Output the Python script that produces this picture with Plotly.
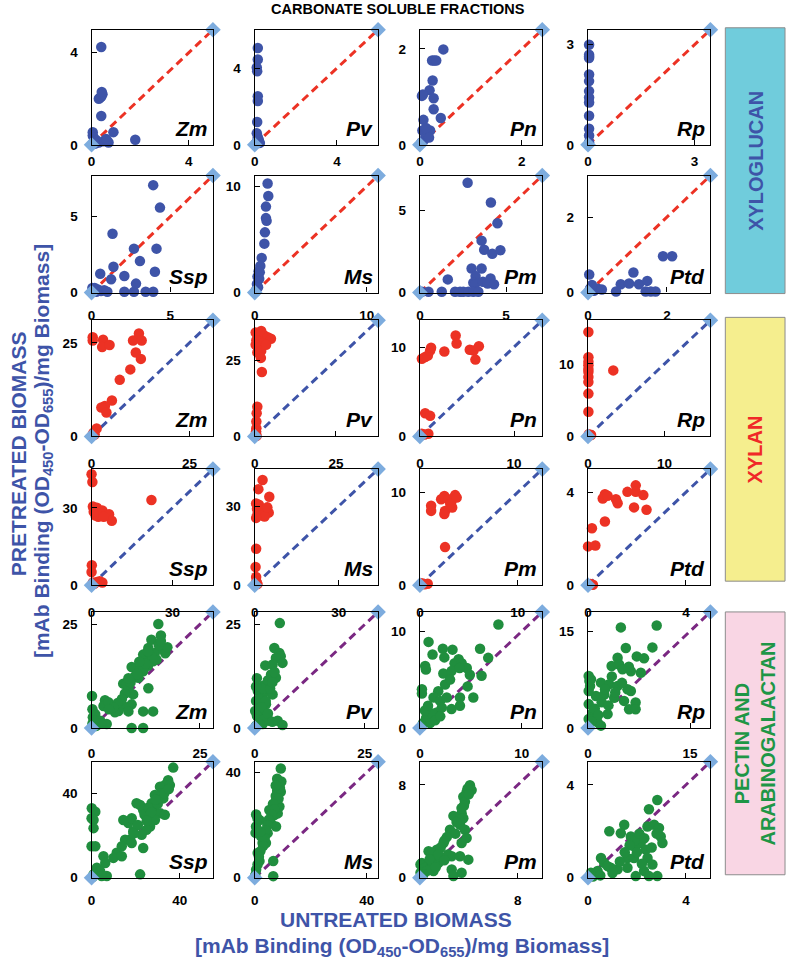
import plotly.graph_objects as go

# ---------------- DATA ----------------
panel_names = ["Zm", "Pv", "Pn", "Rp", "Ssp", "Ms", "Pm", "Ptd"]
group_names = ["XYLOGLUCAN", "XYLAN", "PECTIN AND<br>ARABINOGALACTAN"]

# axis maximum (both axes) and the labelled tick per panel, row-major
axis_max = [5, 6, 2.4, 3.45, 7.7, 11, 7.1, 3.1,
            31, 38, 13, 16, 45, 44, 12.5, 5,
            28, 28, 12, 18, 55, 44, 10, 5]
tick_val = [4, 4, 2, 3, 5, 10, 5, 2,
            25, 25, 10, 10, 30, 30, 10, 4,
            25, 25, 10, 15, 40, 40, 8, 4]

# ---- xyloglucan ----
xg_zm = [(0.4, 4.25), (0.3, 2.0), (0.35, 2.05), (0.4, 2.1), (0.45, 2.2), (0.42, 2.3), (0.4, 1.25),
         (0.9, 0.55), (1.8, 0.22), (0.05, 0.55), (0.05, 0.4), (0.1, 0.3), (0.2, 0.2), (0.3, 0.1),
         (0.5, 0.15), (0.6, 0.25), (0.7, 0.1), (0.15, 0.05), (0.02, 0.02), (0.63, 0.2), (0.1, 0.12)]
xg_pv = [(0.15, 5.05), (0.15, 4.45), (0.1, 4.03), (0.12, 3.83), (0.15, 2.53), (0.15, 2.28),
         (0.12, 1.19), (0.1, 0.6), (0.15, 0.4), (0.2, 0.25), (0.1, 0.15), (0.25, 0.1), (0.05, 0.05)]
xg_pn = [(0.46, 1.99), (0.24, 1.76), (0.28, 1.76), (0.32, 1.76), (0.25, 1.34), (0.19, 1.14),
         (0.04, 1.02), (0.06, 1.05), (0.27, 0.97), (0.27, 0.74), (0.07, 0.52), (0.41, 0.56),
         (0.05, 0.3), (0.1, 0.25), (0.15, 0.2), (0.2, 0.3), (0.08, 0.1), (0.03, 0.05), (0.12, 0.35),
         (0.18, 0.15)]
xg_rp = [(0.03, 3.0), (0.03, 2.7), (0.03, 2.65), (0.03, 2.6), (0.03, 2.11), (0.03, 1.91), (0.03, 1.61),
         (0.03, 1.42), (0.03, 1.27), (0.03, 0.87), (0.03, 0.48), (0.03, 0.28), (0.03, 0.08)]
xg_ssp = [(3.91, 7.07), (4.34, 5.59), (1.33, 3.87), (2.69, 2.89), (4.12, 2.89), (3.07, 2.07),
          (1.39, 1.7), (2.08, 1.09), (0.55, 1.24), (1.24, 0.87), (4.02, 1.37), (2.08, 0.05),
          (2.69, 0.05), (3.43, 0.05), (3.91, 0.05), (2.82, 0.59), (0.1, 0.1), (0.2, 0.3), (0.4, 0.2),
          (0.6, 0.1), (0.8, 0.15), (1.0, 0.05), (0.3, 0.05), (0.05, 0.3)]
xg_ms = [(1.15, 10.25), (1.21, 9.07), (1.0, 8.08), (1.0, 7.0), (1.06, 6.74), (0.91, 5.66),
         (0.86, 4.6), (0.62, 3.26), (0.5, 2.5), (0.45, 1.9), (0.4, 1.3), (0.2, 0.8), (0.3, 0.5),
         (0.1, 0.2), (0.05, 0.05), (0.25, 1.5), (0.35, 2.0)]
xg_pm = [(2.77, 6.66), (4.12, 5.46), (4.5, 4.21), (3.58, 3.15), (3.73, 2.6), (4.2, 2.35), (4.67, 2.57),
         (3.0, 1.46), (3.58, 1.46), (3.23, 1.0), (3.1, 0.6), (3.2, 0.5), (1.62, 0.8), (3.66, 0.66),
         (4.1, 0.85), (3.93, 0.55), (4.3, 0.5), (0.12, 0.05), (0.5, 0.05), (1.27, 0.05), (2.04, 0.05),
         (2.33, 0.05), (2.52, 0.05), (2.81, 0.05), (3.1, 0.05), (3.39, 0.05)]
xg_ptd = [(1.9, 0.96), (2.13, 0.96), (0.03, 0.48), (1.15, 0.53), (0.83, 0.22), (1.04, 0.24),
          (1.29, 0.22), (1.5, 0.31), (0.71, 0.03), (1.46, 0.03), (1.59, 0.03), (1.71, 0.03),
          (0.05, 0.1), (0.15, 0.05), (0.25, 0.1), (0.35, 0.08), (0.1, 0.2), (0.02, 0.02)]

# ---- xylan ----
xy_zm = [(0.3, 26.5), (0.3, 25.6), (2.95, 25.8), (2.7, 23.9), (4.6, 24.4), (10.6, 25.6), (12.1, 27.5),
         (12.8, 25.6), (11.3, 22.4), (12.6, 20.7), (9.9, 17.9), (7.2, 15.1), (5.2, 9.6), (3.4, 8.1),
         (2.5, 7.7), (3.8, 6.4), (1.3, 2.1), (0.5, 1.0), (0.2, 0.3), (0.8, 0.5), (0.1, 0.1)]
xy_pv = [(0.3, 34.0), (1.0, 33.5), (2.0, 34.5), (3.0, 33.0), (4.0, 32.5), (5.0, 32.0), (0.5, 31.5),
         (1.5, 31.0), (2.5, 30.5), (0.3, 30.0), (1.0, 29.0), (2.0, 28.0), (3.5, 30.0), (0.8, 27.5),
         (1.9, 25.7), (2.2, 21.1), (0.8, 9.7), (0.6, 7.6), (0.5, 4.9), (0.5, 2.7), (0.4, 1.6),
         (0.2, 0.5), (0.6, 0.2), (0.1, 0.1)]
xy_pn = [(0.21, 8.7), (0.56, 8.9), (0.85, 9.07), (1.09, 9.63), (1.19, 9.92), (2.6, 9.5), (3.8, 11.3),
         (3.9, 10.4), (5.3, 9.7), (5.7, 9.63), (6.27, 10.1), (5.9, 8.6), (0.56, 2.6), (1.09, 2.3),
         (0.2, 0.3), (0.5, 0.2), (0.9, 0.3), (0.1, 0.1)]
xy_rp = [(0.05, 14.4), (0.05, 10.9), (0.05, 10.3), (0.05, 9.8), (0.05, 9.3), (0.05, 8.9), (0.05, 8.2),
         (0.05, 7.5), (0.05, 5.9), (0.05, 3.4), (3.3, 9.1), (0.1, 0.3), (0.4, 0.2), (0.05, 0.05)]
xy_ssp = [(0.0, 43.0), (0.3, 40.0), (22.2, 33.0), (0.5, 30.5), (1.0, 29.5), (2.0, 30.0), (3.0, 28.5),
          (4.0, 29.0), (5.0, 27.5), (1.5, 27.0), (2.5, 26.5), (3.5, 27.5), (6.5, 27.5), (7.5, 25.0),
          (0.8, 28.5), (4.5, 26.5), (0.1, 7.7), (0.0, 5.1), (0.5, 1.0), (1.0, 0.5), (2.0, 1.2),
          (3.0, 1.5), (4.0, 1.0), (0.2, 0.2)]
xy_ms = [(2.8, 39.9), (1.3, 36.4), (5.2, 33.5), (0.5, 31.0), (1.5, 30.5), (0.8, 29.0), (2.0, 28.5),
         (3.0, 28.0), (4.0, 28.5), (5.0, 27.5), (1.0, 27.0), (2.5, 26.5), (3.5, 26.0), (0.5, 25.5),
         (4.5, 29.5), (0.5, 13.8), (0.3, 6.9), (0.5, 3.1), (0.6, 1.3), (0.2, 0.3), (1.0, 0.4)]
xy_pm = [(1.15, 8.55), (1.15, 8.0), (2.17, 9.26), (2.5, 9.6), (2.9, 9.26), (3.2, 8.9), (3.6, 9.7),
         (3.76, 9.43), (3.3, 8.37), (2.57, 8.0), (2.5, 7.66), (3.1, 8.73), (2.57, 4.1),
         (0.2, 0.2), (0.5, 0.1), (0.8, 0.15), (0.05, 0.05)]
xy_ptd = [(0.69, 3.92), (0.6, 3.73), (0.8, 3.85), (1.14, 3.7), (1.21, 3.53), (1.61, 4.02), (1.95, 4.3),
          (1.95, 4.02), (2.26, 3.88), (1.88, 3.35), (2.39, 3.25), (0.69, 2.74), (0.16, 2.45),
          (0.0, 1.67), (0.3, 1.71), (0.1, 0.05), (0.2, 0.02), (0.02, 0.03)]

# ---- pectin / arabinogalactan ----
pe_zm = [(15.4, 25.1), (16.0, 22.3), (13.8, 21.3), (13.1, 19.3), (11.9, 17.7), (13.5, 17.3), (14.6, 18.1),
         (12.3, 16.1), (14.2, 16.1), (9.25, 14.7), (11.2, 14.1), (10.0, 12.5), (11.9, 13.7), (10.8, 12.1),
         (7.3, 10.7), (8.5, 9.7), (13.1, 9.6), (9.6, 8.1), (7.7, 8.3), (9.25, 5.7), (7.3, 5.3), (6.2, 4.1),
         (5.4, 3.8), (8.5, 4.0), (11.9, 4.0), (14.2, 4.0), (3.1, 6.7), (2.75, 5.3), (3.9, 6.2), (0.1, 7.7),
         (0.2, 4.5), (0.3, 2.6), (0.85, 3.35), (2.0, 1.75), (3.5, 0.96), (9.25, 0.0), (11.9, 0.0),
         (0.2, 1.0), (1.1, 0.5), (2.2, 1.0), (0.5, 1.8), (13.0, 15.0), (12.0, 14.5), (15.0, 16.5),
         (16.5, 19.0), (17.0, 18.0), (14.0, 17.0), (10.5, 13.0), (8.0, 10.5), (7.0, 7.0), (6.0, 6.0),
         (5.0, 5.0), (4.0, 4.5), (17.5, 19.5), (15.5, 20.0), (12.5, 15.5), (16.0, 21.0), (11.0, 16.0),
         (9.0, 11.0), (13.0, 18.5), (8.5, 12.0)]
pe_pv = [(5.7, 25.3), (4.45, 19.3), (5.6, 18.1), (5.9, 17.3), (4.8, 16.9), (4.06, 15.3), (2.4, 15.1),
         (6.3, 15.7), (3.7, 12.9), (4.8, 12.1), (2.9, 10.9), (1.8, 10.1), (0.7, 8.9), (3.3, 8.9), (4.06, 8.1),
         (1.8, 7.3), (0.3, 6.5), (2.55, 5.7), (1.06, 5.0), (0.1, 4.1), (1.4, 3.35), (0.7, 2.6), (3.3, 1.75),
         (5.2, 1.75), (6.3, 0.7), (0.3, 0.55), (1.8, 0.96), (2.0, 9.5), (3.0, 11.5), (1.0, 7.0), (2.5, 6.5),
         (3.5, 9.5), (4.5, 13.5), (4.0, 11.0), (1.5, 5.0), (0.5, 3.0), (2.0, 2.0), (3.0, 3.5), (1.0, 1.0),
         (4.0, 1.5), (0.3, 10.0), (0.5, 12.0)]
pe_pn = [(7.7, 10.7), (0.85, 8.9), (2.25, 8.2), (3.2, 8.1), (5.9, 8.2), (1.24, 7.6), (2.4, 7.3), (3.8, 7.1),
         (3.4, 6.7), (4.1, 6.7), (4.6, 6.2), (6.7, 7.25), (0.52, 6.4), (0.59, 6.05), (2.3, 5.64), (3.1, 5.88),
         (3.9, 6.2), (4.9, 5.5), (6.05, 5.4), (2.47, 4.5), (2.96, 5.0), (1.8, 3.8), (1.34, 3.15), (1.98, 2.8),
         (2.63, 3.15), (4.68, 4.3), (0.2, 4.0), (0.2, 3.56), (3.93, 3.15), (5.24, 3.15), (3.1, 1.95),
         (3.93, 2.3), (1.66, 1.6), (2.15, 2.1), (0.3, 0.5), (0.6, 1.0), (1.0, 0.5), (1.2, 1.5), (0.5, 1.8),
         (1.5, 0.8), (0.2, 0.2), (2.0, 1.2), (0.8, 2.3)]
pe_rp = [(4.83, 15.6), (10.1, 15.9), (5.56, 12.4), (9.47, 12.5), (4.35, 10.9), (7.17, 11.1), (8.24, 10.8),
         (3.47, 9.6), (4.58, 9.85), (5.07, 9.1), (6.3, 8.8), (7.76, 8.57), (0.1, 8.05), (0.44, 7.54),
         (1.9, 7.03), (3.1, 6.77), (4.35, 6.5), (5.8, 6.0), (6.3, 5.74), (1.17, 4.97), (2.39, 5.2),
         (3.85, 4.7), (5.3, 4.2), (7.0, 3.95), (6.04, 2.9), (7.0, 2.9), (0.1, 5.74), (0.1, 3.7), (0.69, 2.4),
         (1.42, 0.87), (0.1, 1.4), (1.9, 0.36), (2.88, 2.15), (1.0, 3.0), (1.5, 2.0), (2.0, 4.0), (0.5, 1.0),
         (3.0, 3.5), (4.0, 5.5), (5.0, 7.0), (2.5, 6.0), (3.5, 8.0), (6.0, 9.5), (0.3, 6.5), (0.2, 7.3)]
pe_ssp = [(37.0, 52.2), (34.7, 46.2), (33.2, 43.9), (35.5, 43.9), (31.0, 43.1), (31.7, 40.0), (28.7, 39.2),
          (29.5, 36.8), (32.5, 37.6), (27.2, 35.3), (24.9, 32.9), (28.0, 31.3), (25.7, 29.8), (22.0, 34.5),
          (20.4, 35.3), (23.4, 32.1), (31.0, 30.6), (33.2, 29.8), (28.7, 27.4), (26.5, 24.3), (24.9, 22.7),
          (22.7, 20.4), (18.9, 22.0), (17.4, 18.0), (15.2, 18.0), (13.7, 14.9), (11.4, 11.8), (9.9, 9.4),
          (13.7, 10.2), (18.2, 16.5), (16.7, 25.9), (18.2, 28.2), (23.4, 14.1), (14.4, 27.4), (22.0, 1.6),
          (0.1, 32.9), (1.7, 31.3), (0.9, 27.4), (0.0, 28.2), (0.9, 23.5), (0.0, 14.9), (1.7, 14.9),
          (5.4, 10.2), (6.2, 7.0), (2.4, 4.7), (3.9, 3.1), (6.9, 0.8), (0.9, 1.6), (4.6, 0.8),
          (24.0, 30.0), (26.0, 33.0), (30.0, 35.0), (27.0, 31.0), (29.0, 37.0), (33.0, 40.0), (35.0, 42.0),
          (25.0, 27.0), (21.0, 25.0), (19.0, 21.0), (0.5, 0.3)]
pe_ms = [(9.3, 41.4), (8.8, 35.7), (9.3, 32.6), (7.6, 29.4), (8.8, 27.0), (7.0, 23.8), (5.8, 20.7),
         (7.6, 19.4), (4.6, 16.9), (2.8, 13.2), (1.06, 9.4), (0.47, 19.4), (1.7, 21.9), (4.0, 13.2),
         (1.7, 6.3), (6.6, 6.3), (6.6, 0.6), (2.2, 15.7), (5.2, 25.7), (8.2, 24.4), (8.0, 33.0), (7.5, 31.0),
         (8.5, 30.0), (6.5, 28.0), (7.0, 26.0), (6.0, 24.0), (5.0, 22.0), (4.5, 20.0), (4.0, 18.0),
         (3.5, 15.0), (3.0, 12.0), (2.0, 10.0), (1.5, 8.0), (1.0, 5.0), (0.5, 3.0), (0.2, 1.0), (0.5, 24.0),
         (1.0, 22.5), (0.3, 17.0), (2.0, 17.5), (9.0, 34.0), (9.5, 36.5), (8.0, 37.5), (7.5, 35.0)]
pe_pm = [(4.09, 7.97), (3.82, 7.4), (3.55, 6.98), (4.23, 7.55), (3.68, 6.56), (3.41, 5.56), (2.74, 5.33),
         (3.55, 5.13), (3.28, 4.56), (2.46, 4.13), (3.68, 4.13), (3.82, 3.42), (3.41, 2.99), (1.93, 2.99),
         (1.38, 2.42), (0.71, 2.28), (2.6, 1.85), (3.28, 1.85), (3.96, 1.56), (2.6, 0.71), (3.41, 0.43),
         (2.74, 0.15), (0.16, 1.28), (0.05, 1.14), (0.05, 0.43), (0.43, 0.85), (1.11, 0.57), (1.52, 1.28),
         (1.93, 1.71), (1.24, 1.71), (0.98, 2.14), (3.9, 7.7), (4.0, 7.2), (3.6, 6.2), (3.4, 6.0), (3.2, 5.0),
         (3.0, 4.8), (2.9, 3.8), (2.2, 3.5), (2.0, 3.2), (1.7, 2.6), (1.5, 2.0), (1.0, 1.2), (0.6, 0.6),
         (0.3, 0.3), (2.3, 2.0), (2.0, 1.5), (0.8, 1.6), (1.3, 0.9)]
pe_ptd = [(2.83, 3.35), (2.49, 2.95), (0.87, 2.0), (1.48, 2.28), (1.34, 1.92), (1.75, 1.78), (2.02, 1.64),
          (2.43, 2.21), (2.7, 2.28), (2.9, 2.14), (2.97, 1.78), (3.04, 1.5), (2.15, 1.5), (1.88, 1.35),
          (2.36, 1.21), (1.61, 0.85), (1.88, 0.85), (2.43, 0.85), (2.63, 0.57), (2.29, 0.29), (2.83, 0.07),
          (2.49, 0.07), (1.95, 0.07), (1.61, 0.43), (1.21, 0.36), (0.93, 0.43), (0.66, 0.64), (0.53, 0.85),
          (0.12, 0.21), (0.39, 0.29), (1.9, 1.6), (2.1, 1.9), (2.3, 1.7), (1.7, 1.4), (2.0, 1.1), (2.6, 1.3),
          (2.8, 1.9), (1.5, 1.1), (1.3, 0.7), (2.2, 0.6), (0.8, 0.5), (1.0, 0.2), (0.2, 0.05), (0.5, 0.1)]

panels = [xg_zm, xg_pv, xg_pn, xg_rp, xg_ssp, xg_ms, xg_pm, xg_ptd,
          xy_zm, xy_pv, xy_pn, xy_rp, xy_ssp, xy_ms, xy_pm, xy_ptd,
          pe_zm, pe_pv, pe_pn, pe_rp, pe_ssp, pe_ms, pe_pm, pe_ptd]

# ---------------- STYLE / LAYOUT ----------------
W, H = 789, 974
FONT = "Liberation Sans"
BLUE = "rgb(62,84,168)"
RED = "rgb(236,50,36)"
GREEN = "rgb(32,142,62)"
PURPLE = "rgb(122,40,130)"
DIAMOND = "rgb(125,172,222)"
point_colors = [BLUE, RED, GREEN]
line_colors = [RED, BLUE, PURPLE]

col_l = [88, 252, 418, 587]
col_r = [210, 376, 541, 710]
row_t = [30, 177, 323, 473, 617, 768]
row_b = [146, 295, 440, 590, 734, 885]
x_standoff = [4, 10, 14, 14, 13, 10]

fig = go.Figure()
layout = dict(width=W, height=H, margin=dict(l=0, r=0, t=0, b=0),
              paper_bgcolor="white", plot_bgcolor="white", showlegend=False)
annotations = []
shapes = []

for k, pts in enumerate(panels):
    r, c = divmod(k, 4)
    g = r // 2
    n = k + 1
    sfx = "" if n == 1 else str(n)
    xa, ya = "x" + sfx, "y" + sfx
    m = axis_max[k]
    axcommon = dict(range=[0, m], showline=True, linecolor="black", linewidth=1.4, mirror=True,
                    ticks="inside", ticklen=5, tickwidth=1.2, tickcolor="black",
                    showgrid=False, zeroline=False, tickvals=[0, tick_val[k]],
                    ticktext=["0", str(tick_val[k])],
                    tickfont=dict(family=FONT, size=13.5, color="black", weight="bold"))
    layout["xaxis" + sfx] = dict(axcommon, domain=[col_l[c] / W, col_r[c] / W], anchor=ya,
                                 ticklabelstandoff=x_standoff[r])
    layout["yaxis" + sfx] = dict(axcommon, domain=[1 - row_b[r] / H, 1 - row_t[r] / H], anchor=xa,
                                 ticklabelstandoff=10)
    # diagonal 1:1 line
    fig.add_trace(go.Scatter(x=[0, m], y=[0, m], mode="lines", xaxis=xa, yaxis=ya,
                             line=dict(color=line_colors[g], width=3, dash="8px,5px"),
                             hoverinfo="skip"))
    fig.add_trace(go.Scatter(x=[p[0] for p in pts], y=[p[1] for p in pts], mode="markers",
                             xaxis=xa, yaxis=ya, cliponaxis=False,
                             marker=dict(color=point_colors[g], size=10.5, line=dict(width=0))))
    fig.add_trace(go.Scatter(x=[0, m], y=[0, m], mode="markers", xaxis=xa, yaxis=ya,
                             cliponaxis=False,
                             marker=dict(symbol="diamond", color=DIAMOND, size=12,
                                         line=dict(width=0))))
    annotations.append(dict(text=panel_names[k % 8], xref=xa + " domain", yref=ya + " domain",
                            x=1, y=0, xanchor="right", yanchor="bottom", xshift=-3, yshift=3,
                            showarrow=False,
                            font=dict(family=FONT, size=21, color="black", weight="bold",
                                      style="italic")))

# right-hand group boxes
box_y = [(28, 296), (320, 586), (617, 882)]
box_fill = ["rgb(112,204,220)", "rgb(245,238,142)", "rgb(249,214,228)"]
text_cols = [BLUE, "rgb(240,40,40)", "rgb(30,150,70)"]
for i, (t, b) in enumerate(box_y):
    shapes.append(dict(type="rect", xref="paper", yref="paper", x0=725 / W, x1=785 / W,
                       y0=1 - b / H, y1=1 - t / H, fillcolor=box_fill[i],
                       line=dict(color="rgb(140,140,140)", width=1), layer="below"))
    annotations.append(dict(text=group_names[i], xref="paper", yref="paper", x=755 / W,
                            y=1 - (t + b) / 2 / H, textangle=-90, showarrow=False,
                            xanchor="center", yanchor="middle",
                            font=dict(family=FONT, size=20, color=text_cols[i], weight="bold")))

# titles
annotations.append(dict(text="CARBONATE SOLUBLE FRACTIONS", xref="paper", yref="paper",
                        x=396 / W, y=1 - 9 / H, showarrow=False, xanchor="center", yanchor="middle",
                        font=dict(family=FONT, size=14.5, color="black", weight="bold")))
sub_title = "[mAb Binding (OD<sub>450</sub>-OD<sub>655</sub>)/mg Biomass]"
annotations.append(dict(text="UNTREATED BIOMASS", xref="paper", yref="paper",
                        x=394 / W, y=1 - 927 / H, showarrow=False, xanchor="center", yanchor="middle",
                        font=dict(family=FONT, size=21, color=BLUE, weight="bold")))
annotations.append(dict(text=sub_title, xref="paper", yref="paper",
                        x=400 / W, y=1 - 955 / H, showarrow=False, xanchor="center", yanchor="middle",
                        font=dict(family=FONT, size=21, color=BLUE, weight="bold")))
annotations.append(dict(text="PRETREATED BIOMASS", xref="paper", yref="paper",
                        x=14 / W, y=1 - 457 / H, showarrow=False, xanchor="center", yanchor="middle",
                        textangle=-90,
                        font=dict(family=FONT, size=21, color=BLUE, weight="bold")))
annotations.append(dict(text=sub_title, xref="paper", yref="paper",
                        x=39 / W, y=1 - 455 / H, showarrow=False, xanchor="center", yanchor="middle",
                        textangle=-90,
                        font=dict(family=FONT, size=21, color=BLUE, weight="bold")))

layout["annotations"] = annotations
layout["shapes"] = shapes
fig.update_layout(**layout)
fig.write_html("out.html", config={"displayModeBar": False},
               post_script="document.body.style.margin='0px';document.body.style.overflow='hidden';")
